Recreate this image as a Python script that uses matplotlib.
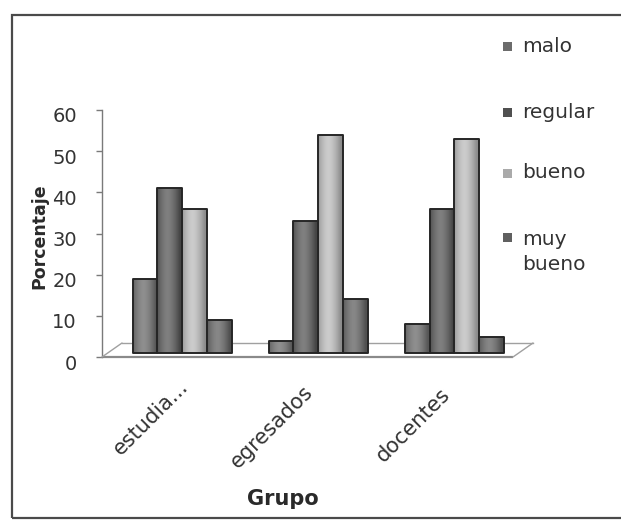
import numpy as np
import matplotlib
matplotlib.use("Agg")
import matplotlib.pyplot as plt
from matplotlib.patches import Rectangle
from matplotlib.transforms import ScaledTranslation

# ---- data -------------------------------------------------------------
grupos = ["estudia...", "egresados", "docentes"]
series = ["malo", "regular", "bueno", "muy\nbueno"]
malo = [18, 3, 7]
regular = [40, 32, 35]
bueno = [35, 53, 52]
muy_bueno = [8, 13, 4]
valores = [malo, regular, bueno, muy_bueno]
y_ticks = [0, 10, 20, 30, 40, 50, 60]

# grey levels (edge, centre) for each series
tonos = [(0.34, 0.56), (0.27, 0.50), (0.55, 0.80), (0.31, 0.53)]
leyenda_col = ["#6c6c6c", "#505050", "#aaaaaa", "#606060"]

W, H = 621, 527
fig = plt.figure(figsize=(W / 100, H / 100), dpi=100)
fig.patch.set_facecolor("white")

def px(x0, y0):
    """pixel position (from top-left) -> figure fraction"""
    return x0 / W, 1 - y0 / H

# outer chart frame
frame = Rectangle((12 / W, 1 - 518 / H), (640 - 12) / W, (518 - 15) / H,
                  transform=fig.transFigure, fill=False, ec="#4a4a4a", lw=1.6,
                  zorder=0)
fig.patches.append(frame)

# plot area
ax_left, ax_right = 102, 513
y0_px, y60_px = 357, 110
ax = fig.add_axes([ax_left / W, 1 - y0_px / H, (ax_right - ax_left) / W,
                   (y0_px - y60_px) / H])
ax.set_facecolor("none")
ax.set_xlim(-0.514, 2.503)
ax.set_ylim(0, 60)

dpi_tr = fig.dpi_scale_trans
floor_back = ScaledTranslation(20 / 100, 14 / 100, dpi_tr)
bar_shift = ScaledTranslation(10 / 100, 4 / 100, dpi_tr)
bar_tr = ax.transData + bar_shift

# floor of the 3-D plot
x_a, x_b = -0.514, 2.503
ax.plot([x_a, x_b], [0, 0], color="#8a8a8a", lw=1.6, zorder=1,
        solid_capstyle="butt", clip_on=False)
ax.plot([x_a, x_b], [0, 0], color="#a0a0a0", lw=1.0, zorder=1,
        transform=ax.transData + floor_back, clip_on=False)
for xe in (x_a, x_b):
    p0 = ax.transData.transform((xe, 0))
    ax.annotate("", xy=(p0[0] + 20, p0[1] + 14), xycoords="figure pixels",
                xytext=(p0[0], p0[1]), textcoords="figure pixels",
                arrowprops=dict(arrowstyle="-", color="#a0a0a0", lw=1.0,
                                shrinkA=0, shrinkB=0))

# bars with horizontal shading
bw = 0.1817
t = np.linspace(0, 1, 48)
profile = 1 - np.abs(2 * (t - 0.42)) ** 1.6
profile = np.clip(profile, 0, 1)
for s, vals in enumerate(valores):
    lo, hi = tonos[s]
    g = lo + (hi - lo) * profile
    img = np.dstack([g, g, g])
    for i, v in enumerate(vals):
        xl = i + (s - 2) * bw
        rect = Rectangle((xl, 0), bw, v, transform=bar_tr, fc="none",
                         ec="#262626", lw=1.4, zorder=4, joinstyle="round")
        ax.add_patch(rect)
        im = ax.imshow(img, extent=(xl, xl + bw, 0, v), aspect="auto",
                       interpolation="bilinear", transform=bar_tr, zorder=3)
        im.set_clip_path(rect)

ax.set_xlim(-0.514, 2.503)
ax.set_ylim(0, 60)

# axes styling
for side in ("top", "right", "bottom"):
    ax.spines[side].set_visible(False)
ax.spines["left"].set_color("#7a7a7a")
ax.spines["left"].set_linewidth(1.0)
ax.set_yticks(y_ticks)
ax.tick_params(axis="y", direction="out", length=4, width=1.0,
               color="#7a7a7a", labelsize=14, labelcolor="#333333", pad=14)
for lab in ax.get_yticklabels():
    lab.set_transform(lab.get_transform() + ScaledTranslation(0, -0.05, dpi_tr))

ax.set_xticks([0, 1, 2])
ax.set_xticklabels(grupos, rotation=45, ha="right", rotation_mode="anchor",
                   fontsize=15, color="#333333")
ax.tick_params(axis="x", length=0, pad=13)
label_shift = [(6, -1), (-5, -7), (-4, -9)]   # pixels
for lab, (dx, dy) in zip(ax.get_xticklabels(), label_shift):
    lab.set_transform(lab.get_transform() +
                      ScaledTranslation(dx / 100, dy / 100, dpi_tr))

# axis titles
fig.text(*px(39, 236), "Porcentaje", rotation=90, ha="center", va="center",
         fontsize=12.5, fontweight="bold", color="#2a2a2a")
fig.text(*px(283, 499), "Grupo", ha="center", va="center",
         fontsize=15, fontweight="bold", color="#2a2a2a")

# legend
leg_y = [47, 112, 173, 252]
for name, col, yy in zip(series, leyenda_col, leg_y):
    top_line = yy if "\n" not in name else 237
    fig.patches.append(Rectangle((503 / W, 1 - (top_line + 4.5) / H),
                                 9 / W, 9 / H, transform=fig.transFigure,
                                 fc=col, ec="none"))
    fig.text(522 / W, 1 - yy / H, name, ha="left", va="center", fontsize=14.5,
             color="#333333", linespacing=1.4)

fig.savefig("out.png", dpi=100, facecolor="white")
